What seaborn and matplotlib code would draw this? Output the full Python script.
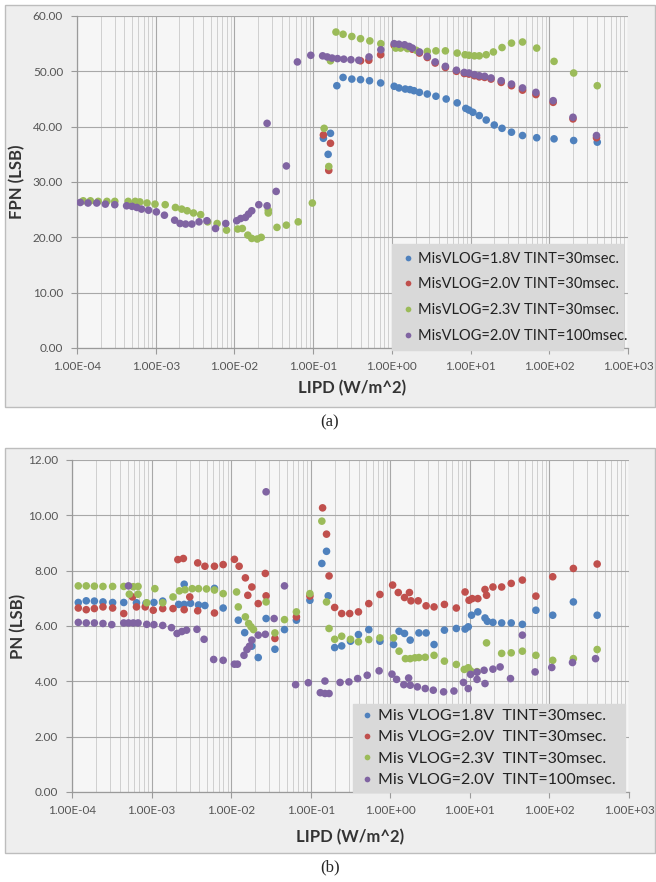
import matplotlib
matplotlib.use("Agg")
import matplotlib.pyplot as plt
from matplotlib.patches import Rectangle
from matplotlib.ticker import FixedLocator, FuncFormatter, MultipleLocator, NullFormatter
import numpy as np
import pandas as pd
import seaborn as sns

# ---------------- data : panel (a) FPN ----------------
a_labels = ["MisVLOG=1.8V TINT=30msec.", "MisVLOG=2.0V TINT=30msec.",
            "MisVLOG=2.3V TINT=30msec.", "MisVLOG=2.0V TINT=100msec."]

a_blue_x = [0.135, 0.166, 0.155, 0.2, 0.24, 0.31, 0.40, 0.52, 0.72, 1.07, 1.23, 1.48, 1.70, 1.91,
            2.24, 2.82, 3.63, 4.9, 6.76, 8.7, 9.55, 10.7, 12.9, 15.8, 20.0, 25.1, 33.1, 45.7,
            69.2, 115, 204, 407]
a_blue_y = [37.9, 38.8, 35.0, 47.4, 48.9, 48.6, 48.5, 48.3, 47.9, 47.3, 47.0, 46.8, 46.7, 46.5,
            46.2, 45.9, 45.5, 45.0, 44.3, 43.3, 43.0, 42.6, 42.0, 41.2, 40.3, 39.7, 39.0, 38.4,
            38.0, 37.8, 37.5, 37.2]

a_red_x = [0.135, 0.166, 0.158, 0.40, 0.51, 0.72, 1.07, 1.23, 1.45, 1.66, 1.82, 2.24, 2.82, 3.55,
           4.79, 6.61, 8.32, 9.55, 11.2, 12.9, 15.1, 18.2, 24.5, 33.1, 45.7, 67.6, 112, 200, 398]
a_red_y = [38.5, 37.0, 32.1, 51.9, 52.0, 53.0, 54.7, 54.6, 54.5, 54.3, 54.0, 53.3, 52.5, 51.5,
           50.7, 50.0, 49.6, 49.5, 49.2, 49.0, 48.9, 48.6, 48.0, 47.4, 46.6, 45.8, 44.4, 41.4, 38.0]

a_green_x = [1.2e-4, 1.48e-4, 1.86e-4, 2.4e-4, 3.02e-4, 4.47e-4, 5.5e-4, 6.3e-4, 7.76e-4, 9.8e-4,
             1.32e-3, 1.78e-3, 2.14e-3, 2.51e-3, 3.02e-3, 3.72e-3, 4.57e-3, 6.03e-3, 7.94e-3,
             1.1e-2, 1.26e-2, 1.48e-2, 1.66e-2, 1.95e-2, 2.19e-2, 2.69e-2, 2.69e-2, 3.47e-2,
             4.57e-2, 6.46e-2, 9.77e-2, 0.138, 0.158, 0.166, 0.195, 0.24, 0.31, 0.40, 0.525,
             0.724, 1.12, 1.29, 1.58, 2.04, 2.82, 3.63, 4.79, 6.76, 8.51, 9.55, 11.2, 12.9, 15.8,
             19.5, 25.1, 33.1, 45.7, 69.2, 115, 204, 407]
a_green_y = [26.6, 26.6, 26.5, 26.5, 26.5, 26.5, 26.5, 26.4, 26.2, 26.0,
             25.9, 25.4, 25.1, 24.8, 24.4, 24.1, 22.8, 22.5, 21.3,
             21.5, 21.6, 20.4, 19.8, 19.7, 20.0, 24.4, 24.9, 21.8,
             22.2, 22.8, 26.2, 39.7, 32.8, 51.9, 57.1, 56.7, 56.3, 55.9, 55.5,
             55.0, 54.2, 54.2, 54.1, 53.8, 53.6, 53.7, 53.7, 53.3, 53.0, 52.9, 52.8, 52.8, 53.0,
             53.5, 54.3, 55.1, 55.3, 54.2, 51.8, 49.7, 47.4]

a_purple_x = [1.10e-4, 1.38e-4, 1.78e-4, 2.29e-4, 3.02e-4, 4.27e-4, 5.0e-4, 5.75e-4, 6.6e-4, 8.1e-4,
              1.02e-3, 1.29e-3, 1.74e-3, 2.04e-3, 2.4e-3, 2.88e-3, 3.55e-3, 4.47e-3, 5.75e-3,
              7.76e-3, 1.07e-2, 1.2e-2, 1.38e-2, 1.51e-2, 1.66e-2, 2.04e-2, 2.6e-2, 2.6e-2,
              3.39e-2, 4.57e-2, 6.31e-2, 9.33e-2, 0.132, 0.151, 0.174, 0.204, 0.245, 0.302, 0.38,
              0.513, 0.724, 1.07, 1.23, 1.45, 1.66, 1.82, 2.24, 2.82, 3.55, 4.79, 6.61, 8.32, 9.55,
              11.2, 12.9, 15.1, 18.2, 24.5, 33.1, 45.7, 67.6, 112, 200, 398]
a_purple_y = [26.3, 26.2, 26.2, 26.0, 25.9, 25.7, 25.6, 25.4, 25.1, 24.9,
              24.6, 24.0, 23.1, 22.5, 22.4, 22.4, 22.8, 23.0, 21.6,
              22.5, 23.0, 23.4, 23.6, 24.2, 24.8, 25.9, 25.7, 40.6,
              28.3, 32.9, 51.7, 52.9, 52.8, 52.6, 52.4, 52.3, 52.2, 52.1, 52.0,
              52.6, 53.9, 55.0, 54.9, 54.8, 54.5, 54.2, 53.5, 52.7, 51.7, 50.9, 50.2, 49.8, 49.7,
              49.4, 49.2, 49.1, 48.8, 48.3, 47.7, 47.0, 46.2, 44.7, 41.7, 38.4]

# ---------------- data : panel (b) PN ----------------
b_labels = ["Mis VLOG=1.8V  TINT=30msec.", "Mis VLOG=2.0V  TINT=30msec.",
            "Mis VLOG=2.3V  TINT=30msec.", "Mis VLOG=2.0V  TINT=100msec."]

b_blue_x = [1.2e-4, 1.51e-4, 1.91e-4, 2.45e-4, 3.24e-4, 4.47e-4, 6.46e-4, 8.51e-4, 1.07e-3, 1.38e-3,
            2.19e-3, 2.57e-3, 2.57e-3, 3.09e-3, 3.89e-3, 4.68e-3, 6.17e-3, 7.94e-3, 1.23e-2,
            1.48e-2, 1.82e-2, 2.19e-2, 2.75e-2, 3.55e-2, 4.68e-2, 6.61e-2, 9.77e-2, 0.138, 0.158,
            0.166, 0.2, 0.245, 0.316, 0.398, 0.537, 0.741, 1.10, 1.29, 1.51, 1.78, 2.29, 2.82,
            3.55, 4.79, 6.76, 8.71, 9.55, 10.5, 12.6, 15.5, 16.6, 19.5, 25.1, 33.1, 45.7, 67.6,
            110, 200, 398]
b_blue_y = [6.85, 6.91, 6.90, 6.87, 6.85, 6.85, 6.84, 6.82, 6.85, 6.90,
            6.78, 7.51, 6.78, 6.82, 6.76, 6.74, 7.36, 6.65, 6.21,
            5.76, 5.27, 4.86, 6.27, 5.16, 5.87, 6.21, 6.93, 8.26, 8.70,
            7.09, 5.22, 5.28, 5.45, 5.69, 5.87, 5.45, 5.33, 5.81, 5.73, 5.49, 5.75, 5.75,
            5.33, 5.85, 5.91, 5.89, 5.97, 6.39, 6.51, 6.29, 6.17, 6.13, 6.11, 6.11, 6.06, 6.57,
            6.39, 6.87, 6.39]

b_red_x = [1.2e-4, 1.51e-4, 1.91e-4, 2.45e-4, 3.24e-4, 4.47e-4, 5.75e-4, 6.46e-4, 8.32e-4, 1.05e-3,
           1.38e-3, 1.86e-3, 2.14e-3, 2.51e-3, 2.57e-3, 3.02e-3, 3.8e-3, 3.8e-3, 4.68e-3, 6.17e-3,
           6.17e-3, 7.94e-3, 1.1e-2, 1.26e-2, 1.51e-2, 1.62e-2, 1.82e-2, 2.19e-2, 2.69e-2,
           2.75e-2, 3.55e-2, 6.61e-2, 9.77e-2, 0.141, 0.158, 0.17, 0.2, 0.245, 0.309, 0.398,
           0.537, 0.741, 1.07, 1.26, 1.51, 1.74, 1.82, 2.24, 2.82, 3.55, 4.79, 6.76, 8.71, 9.77,
           10.7, 12.6, 15.5, 16.2, 19.5, 25.1, 33.1, 45.7, 67.6, 110, 200, 398]
b_red_y = [6.65, 6.59, 6.63, 6.69, 6.65, 6.45, 7.05, 6.69, 6.69, 6.57,
           6.63, 6.63, 8.40, 8.44, 6.59, 7.05, 6.55, 8.28, 8.16, 8.16,
           6.47, 8.22, 8.41, 8.16, 7.74, 7.11, 7.41, 6.81, 7.90,
           7.09, 5.55, 6.33, 7.08, 10.27, 9.32, 7.81, 6.67, 6.45, 6.45, 6.51,
           6.81, 7.14, 7.48, 7.21, 7.03, 7.21, 6.91, 6.91, 6.73, 6.69, 6.78, 6.65, 7.23, 6.93,
           6.99, 6.99, 7.32, 7.11, 7.41, 7.41, 7.54, 7.66, 7.08, 7.78, 8.08, 8.24]

b_green_x = [1.2e-4, 1.51e-4, 1.91e-4, 2.45e-4, 3.24e-4, 4.47e-4, 5.25e-4, 5.9e-4, 6.76e-4, 6.76e-4,
             8.7e-4, 1.1e-3, 1.38e-3, 1.86e-3, 2.24e-3, 2.63e-3, 3.24e-3, 3.89e-3, 4.9e-3, 6.17e-3,
             7.94e-3, 1.17e-2, 1.23e-2, 1.51e-2, 1.66e-2, 1.78e-2, 1.91e-2, 2.75e-2, 3.55e-2,
             4.68e-2, 6.61e-2, 9.77e-2, 0.138, 0.158, 0.17, 0.2, 0.245, 0.316, 0.398, 0.537,
             0.741, 1.10, 1.29, 1.55, 1.78, 2.04, 2.29, 2.75, 3.55, 4.79, 6.76, 8.51, 9.55, 10.2,
             12.3, 16.2, 25.1, 33.1, 45.7, 67.6, 110, 200, 398]
b_green_y = [7.45, 7.45, 7.44, 7.43, 7.43, 7.43, 7.15, 7.42, 7.43, 7.15,
             6.84, 7.35, 6.84, 7.05, 7.27, 7.31, 7.35, 7.35, 7.34, 7.30,
             7.17, 7.23, 6.69, 6.33, 6.09, 5.97, 5.87, 6.87, 5.75,
             6.23, 6.51, 7.17, 9.79, 6.87, 5.91, 5.52, 5.63, 5.52, 5.43, 5.51,
             5.57, 5.57, 5.09, 4.82, 4.82, 4.85, 4.86, 4.87, 4.94, 4.73, 4.61, 4.43, 4.49, 4.38,
             4.35, 5.39, 5.01, 5.03, 5.09, 4.94, 4.76, 4.82, 5.15]

b_purple_x = [1.2e-4, 1.51e-4, 1.91e-4, 2.45e-4, 3.16e-4, 4.47e-4, 5.13e-4, 5.13e-4, 5.9e-4, 6.76e-4,
              8.7e-4, 1.07e-3, 1.38e-3, 1.78e-3, 2.09e-3, 2.4e-3, 2.75e-3, 3.72e-3, 4.57e-3,
              6.03e-3, 7.94e-3, 1.1e-2, 1.2e-2, 1.45e-2, 1.58e-2, 1.7e-2, 1.82e-2, 2.19e-2,
              2.69e-2, 2.75e-2, 3.47e-2, 4.68e-2, 6.46e-2, 9.33e-2, 0.132, 0.151, 0.151, 0.17,
              0.234, 0.302, 0.389, 0.513, 0.724, 1.05, 1.20, 1.48, 1.70, 1.78, 2.19, 2.75, 3.47,
              4.68, 6.31, 8.32, 9.55, 10.2, 12.3, 12.3, 15.5, 15.1, 19.5, 24.0, 32.4, 45.7, 66.1,
              107, 195, 380]
b_purple_y = [6.13, 6.11, 6.11, 6.09, 6.05, 6.11, 6.11, 7.45, 6.11, 6.11,
              6.06, 6.05, 6.02, 5.94, 5.73, 5.80, 5.85, 5.88, 5.52,
              4.79, 4.76, 4.62, 4.62, 4.94, 5.15, 5.27, 5.49, 5.67,
              5.70, 10.85, 6.27, 7.45, 3.88, 3.95, 3.59, 4.01, 3.56, 3.56,
              3.96, 3.98, 4.10, 4.22, 4.38, 4.26, 4.07, 3.88, 4.12, 3.86, 3.80, 3.74, 3.68,
              3.62, 3.65, 3.96, 3.74, 4.25, 4.07, 4.33, 3.92, 4.40, 4.44, 4.52, 4.10, 5.67, 4.34,
              4.50, 4.68, 4.82]

x_ticks = [1e-4, 1e-3, 1e-2, 1e-1, 1e0, 1e1, 1e2, 1e3]
colors = ["#4f81bd", "#c0504d", "#9bbb59", "#8064a2"]

# ---------------- styling ----------------
sns.set_style("white")
plt.rcParams["font.family"] = ["Lato", "DejaVu Sans"]

W, H = 656, 882
fig = plt.figure(figsize=(W / 100, H / 100), dpi=100)
fig.patch.set_facecolor("white")


def px_rect(x0, y0, x1, y1):
    return [x0 / W, 1 - y1 / H, (x1 - x0) / W, (y1 - y0) / H]


# outer chart-area boxes (drawn beneath the axes)
for (x0, y0, x1, y1) in [(5, 5, 655, 407), (5, 448, 655, 853)]:
    r = px_rect(x0, y0, x1, y1)
    fig.patches.append(Rectangle((r[0], r[1]), r[2], r[3], transform=fig.transFigure,
                                 facecolor="#eeeeee", edgecolor="#bdbdbd", linewidth=1.0,
                                 zorder=-5))


def make_df(xs, ys, labels, ycol):
    frames = []
    for x, y, lab in zip(xs, ys, labels):
        frames.append(pd.DataFrame({"LIPD": x, ycol: y, "series": lab}))
    return pd.concat(frames, ignore_index=True)


def style_axes(ax, ymax, ystep, ylabel, legend_box, labels, ylab_x, xlab_y,
               leg_fs, leg_spacing, leg_pad):
    ax.set_facecolor("#f6f6f6")
    ax.set_xscale("log")
    ax.set_xlim(1e-4, 1e3)
    ax.set_ylim(0, ymax)
    ax.xaxis.set_major_locator(FixedLocator(x_ticks))
    minor = [m * t for t in x_ticks[:-1] for m in range(2, 10)]
    ax.xaxis.set_minor_locator(FixedLocator(minor))
    ax.xaxis.set_major_formatter(FuncFormatter(lambda v, p: f"{v:.2E}"))
    ax.xaxis.set_minor_formatter(NullFormatter())
    ax.yaxis.set_major_locator(MultipleLocator(ystep))
    ax.yaxis.set_major_formatter(FuncFormatter(lambda v, p: f"{v:.2f}"))
    ax.grid(False)
    ax.grid(which="major", axis="both", color="#a8a8a8", linewidth=0.8, zorder=0)
    ax.grid(which="minor", axis="x", color="#cfcfcf", linewidth=0.7, zorder=0)
    ax.set_axisbelow(True)
    for s in ["top", "right"]:
        ax.spines[s].set_visible(False)
    for s in ["left", "bottom"]:
        ax.spines[s].set_color("#9a9a9a")
        ax.spines[s].set_linewidth(0.9)
    ax.tick_params(axis="both", which="major", labelsize=8.5, labelcolor="#555555",
                   color="#9a9a9a", length=4, width=0.8, direction="out",
                   bottom=True, left=True)
    ax.tick_params(axis="x", which="minor", length=0)
    ax.tick_params(axis="x", pad=5)
    ax.tick_params(axis="y", pad=6)
    ax.set_xlabel("LIPD (W/m^2)", fontsize=12, fontweight="bold", color="#333333")
    ax.set_ylabel(ylabel, fontsize=12, fontweight="bold", color="#333333")
    ax.xaxis.set_label_coords(0.5, xlab_y)
    ax.yaxis.set_label_coords(ylab_x, 0.5)
    handles, _ = ax.get_legend_handles_labels()
    if ax.get_legend() is not None:
        ax.get_legend().remove()
    leg = ax.legend(handles, labels, loc="lower left", bbox_to_anchor=legend_box,
                    mode="expand", borderaxespad=0, frameon=True, fontsize=leg_fs,
                    handletextpad=0.1, handlelength=1.2, labelspacing=leg_spacing,
                    borderpad=leg_pad, markerscale=0.75)
    frame = leg.get_frame()
    frame.set_facecolor("#d9d9d9")
    frame.set_edgecolor("#d9d9d9")
    frame.set_alpha(1)
    frame.set_boxstyle("square", pad=0)
    for t in leg.get_texts():
        t.set_color("#222222")


# ---------------- panel (a) ----------------
ax_a = fig.add_axes(px_rect(77, 16, 628, 348))
df_a = make_df([a_blue_x, a_red_x, a_green_x, a_purple_x],
               [a_blue_y, a_red_y, a_green_y, a_purple_y], a_labels, "FPN")
sns.scatterplot(data=df_a, x="LIPD", y="FPN", hue="series", hue_order=a_labels,
                palette=colors, s=30, linewidth=0, ax=ax_a, zorder=3)
style_axes(ax_a, 60, 10, "FPN (LSB)", (0.572, -0.006, 0.419, 0.322), a_labels,
           -0.093, -0.095, 10.5, 0.8, 0.5)

# ---------------- panel (b) ----------------
ax_b = fig.add_axes(px_rect(72, 460, 629, 792))
df_b = make_df([b_blue_x, b_red_x, b_green_x, b_purple_x],
               [b_blue_y, b_red_y, b_green_y, b_purple_y], b_labels, "PN")
sns.scatterplot(data=df_b, x="LIPD", y="PN", hue="series", hue_order=b_labels,
                palette=colors, s=30, linewidth=0, ax=ax_b, zorder=3)
style_axes(ax_b, 12, 2, "PN (LSB)", (0.504, 0.0, 0.489, 0.277), b_labels,
           -0.083, -0.11, 11.5, 0.45, 0.3)

# captions
fig.text(330 / W, 1 - 422 / H, "(a)", ha="center", va="center", fontsize=12,
         family=["Liberation Serif", "DejaVu Serif"])
fig.text(330 / W, 1 - 867 / H, "(b)", ha="center", va="center", fontsize=12,
         family=["Liberation Serif", "DejaVu Serif"])

fig.savefig("out.png", dpi=100)
